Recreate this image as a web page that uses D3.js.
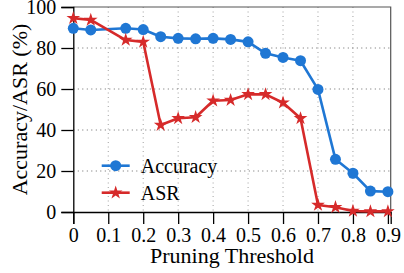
<!DOCTYPE html>
<html>
<head>
<meta charset="utf-8">
<script src="https://cdn.jsdelivr.net/npm/d3@7"></script>
<style>
body { margin: 0; background: #fff; }
text { font-family: "Liberation Serif", "DejaVu Serif", serif; fill: #000; }
</style>
</head>
<body>
<div id="chart"></div>
<script>
// data
var thresholds = [0, 0.05, 0.15, 0.2, 0.25, 0.3, 0.35, 0.4, 0.45, 0.5, 0.55, 0.6, 0.65, 0.7, 0.75, 0.8, 0.85, 0.9];
var accuracy = [89.6, 88.8, 89.6, 89.0, 85.5, 84.7, 84.5, 84.7, 84.2, 83.0, 77.4, 75.4, 73.8, 59.8, 25.7, 18.9, 10.2, 9.9];
var asr = [94.5, 93.7, 83.9, 83.0, 42.4, 45.7, 46.2, 54.3, 54.6, 57.4, 57.4, 53.3, 45.7, 3.4, 2.3, 0.5, 0.3, 0.3];
var xTicks = [0, 0.1, 0.2, 0.3, 0.4, 0.5, 0.6, 0.7, 0.8, 0.9];
var yTicks = [0, 20, 40, 60, 80, 100];
var seriesNames = ["Accuracy", "ASR"];
var seriesColors = ["#1f77d4", "#d62a2a"];

var w = 404, h = 273;
var margin = {top: 7, right: 13.3, bottom: 61, left: 73.3},
    width = w - margin.left - margin.right,
    height = h - margin.top - margin.bottom;

var svg = d3.select("#chart")
    .append("svg")
    .attr("width", w)
    .attr("height", h)
    .append("g")
    .attr("transform", "translate(" + margin.left + "," + margin.top + ")");

var x = d3.scaleLinear().domain([0, 0.908]).range([0, width]);
var y = d3.scaleLinear().domain([0, 100]).range([height, 0]);

// dotted grid
svg.append("g")
    .selectAll("line")
    .data(xTicks.filter(function(d) { return d > 0 && d < 0.9; }))
    .enter().append("line")
    .attr("x1", function(d) { return x(d); })
    .attr("x2", function(d) { return x(d); })
    .attr("y1", 0).attr("y2", height)
    .attr("stroke", "#888").attr("stroke-width", 0.8)
    .attr("stroke-dasharray", "1,3.5");

svg.append("g")
    .selectAll("line")
    .data(yTicks.filter(function(d) { return d > 0 && d < 100; }))
    .enter().append("line")
    .attr("x1", 0).attr("x2", width)
    .attr("y1", function(d) { return y(d); })
    .attr("y2", function(d) { return y(d); })
    .attr("stroke", "#444").attr("stroke-width", 0.8)
    .attr("stroke-dasharray", "1,3.5");

// top / right frame
svg.append("path")
    .attr("d", "M0,0H" + width + "V" + height)
    .attr("fill", "none").attr("stroke", "#555").attr("stroke-width", 1.2);

// axes
var xAxis = svg.append("g")
    .attr("transform", "translate(0," + height + ")")
    .call(d3.axisBottom(x).tickValues(xTicks).tickSize(12).tickPadding(4)
        .tickFormat(function(d) { return d === 0 ? "0" : d3.format(".1f")(d); }));
xAxis.select(".domain").attr("stroke-width", 1.3);
xAxis.selectAll(".tick line").attr("stroke-width", 1.3);
xAxis.selectAll("text").style("font-size", "20px").attr("fill", "#000");

var yAxis = svg.append("g")
    .call(d3.axisLeft(y).tickValues(yTicks).tickSize(12).tickPadding(5));
yAxis.select(".domain").attr("stroke-width", 1.3);
yAxis.selectAll(".tick line").attr("stroke-width", 1.3);
yAxis.selectAll("text").style("font-size", "20px").attr("fill", "#000");

svg.append("text")
    .attr("x", width / 2).attr("y", height + 51)
    .attr("text-anchor", "middle")
    .style("font-size", "22px")
    .text("Pruning Threshold");

svg.append("text")
    .attr("transform", "translate(" + (27 - margin.left) + "," + (height / 2) + ")rotate(-90)")
    .attr("text-anchor", "middle")
    .style("font-size", "22px")
    .text("Accuracy/ASR (%)");

// lines and markers
var allSeries = [accuracy, asr];
var symbols = [d3.symbol().type(d3.symbolCircle).size(95),
               d3.symbol().type(d3.symbolStar).size(58)];

allSeries.forEach(function(vals, i) {
    var pts = thresholds.map(function(t, j) { return [t, vals[j]]; });
    svg.append("path")
        .datum(pts)
        .attr("fill", "none")
        .attr("stroke", seriesColors[i])
        .attr("stroke-width", 2.6)
        .attr("stroke-linejoin", "round")
        .attr("d", d3.line().x(function(d) { return x(d[0]); }).y(function(d) { return y(d[1]); }));
    svg.append("g")
        .selectAll("path")
        .data(pts)
        .enter().append("path")
        .attr("transform", function(d) { return "translate(" + x(d[0]) + "," + y(d[1]) + ")"; })
        .attr("d", symbols[i])
        .attr("fill", seriesColors[i]);
});

// legend
var legend = svg.append("g").attr("transform", "translate(" + (101.7 - margin.left) + "," + (165.7 - margin.top) + ")");
seriesNames.forEach(function(name, i) {
    var g = legend.append("g").attr("transform", "translate(0," + (i * 27) + ")");
    g.append("line")
        .attr("x1", 0).attr("x2", 28)
        .attr("stroke", seriesColors[i]).attr("stroke-width", 2.6);
    g.append("path")
        .attr("transform", "translate(14,0)")
        .attr("d", symbols[i])
        .attr("fill", seriesColors[i]);
    g.append("text")
        .attr("x", 39).attr("y", 7)
        .style("font-size", "20px")
        .text(name);
});
</script>
</body>
</html>
